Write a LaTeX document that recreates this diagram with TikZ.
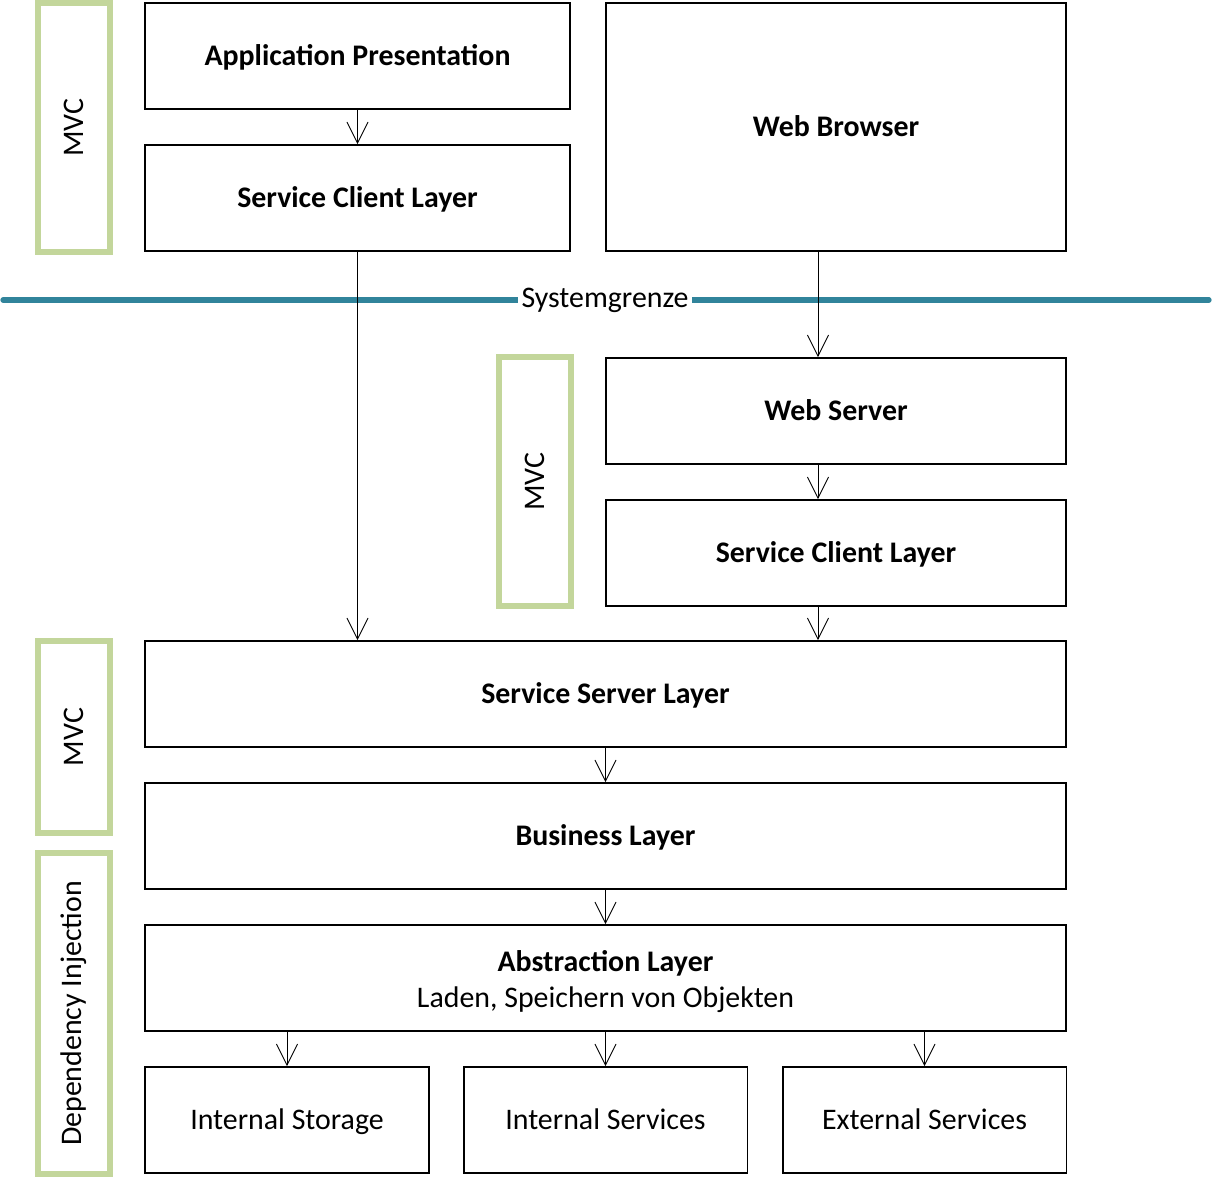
\documentclass[tikz,border=0pt]{standalone}
\usepackage{fontspec}
\setmainfont{Carlito}
\usetikzlibrary{arrows.meta}
\definecolor{mvcgreen}{HTML}{C3D69B}
\definecolor{lineblue}{HTML}{31849B}
\tikzset{
    layer/.style={draw, line width=1.1pt, minimum height=2.12cm, text height=14pt, text depth=3pt, font=\fontsize{17}{20.4}\selectfont\bfseries},
    plain/.style={draw, line width=1.1pt, minimum height=2.12cm, minimum width=5.68cm, text height=14pt, text depth=3pt},
    pattern/.style={draw=mvcgreen, line width=3pt, minimum width=1.44cm},
    arr/.style={-{Straight Barb[length=12pt,width=12pt]}, line width=0.5pt}
}
\begin{document}
\begin{tikzpicture}[x=0.02cm, y=-0.02cm, every node/.style={font=\fontsize{17}{20.4}\selectfont}]
    \useasboundingbox (0,0) rectangle (1212,1177);

    % Client side
    \node[layer, minimum width=8.5cm] (app) at (357.5,56) {Application Presentation};
    \node[layer, minimum width=8.5cm] (scl1) at (357.5,198) {Service Client Layer};
    \node[layer, minimum width=9.2cm, minimum height=4.96cm] (web) at (836,127) {Web Browser};

    % Systemgrenze
    \coordinate (sl) at (3,300);
    \coordinate (sr) at (1209,300);
    \draw[lineblue, line width=3pt, line cap=round] (sl) -- (sr);
    \node[fill=white, inner sep=2pt, text height=12pt, text depth=3pt] (sys) at (605,300) {Systemgrenze};

    % Server side
    \node[layer, minimum width=9.2cm] (wserv) at (836,411) {Web Server};
    \node[layer, minimum width=9.2cm] (scl2) at (836,553) {Service Client Layer};
    \node[layer, minimum width=18.42cm] (sserv) at (605.5,694) {Service Server Layer};
    \node[layer, minimum width=18.42cm] (bus) at (605.5,836) {Business Layer};
    \node[draw, line width=1.1pt, minimum height=2.12cm, minimum width=18.42cm, align=center] (abs) at (605.5,978) {\rule{0pt}{16pt}\textbf{Abstraction Layer}\\Laden, Speichern von Objekten};
    \node[plain] (istore) at (287,1120) {Internal Storage};
    \node[plain] (iserv) at (605.5,1120) {Internal Services};
    \node[plain] (eserv) at (924.5,1120) {External Services};

    % Patterns
    \node[pattern, minimum height=4.98cm] (mvc1) at (74,127.5) {};
    \node[rotate=90] at (mvc1) {MVC};
    \node[pattern, minimum height=4.98cm] (mvc2) at (535,481.5) {};
    \node[rotate=90] at (mvc2) {MVC};
    \node[pattern, minimum height=3.84cm] (mvc3) at (74,737) {};
    \node[rotate=90] at (mvc3) {MVC};
    \node[pattern, minimum height=6.42cm] (di) at (74,1013.5) {};
    \node[rotate=90] at (di) {Dependency Injection};

    % Arrows
    \draw[arr] (app.south) -- (scl1.north);
    \draw[arr] (scl1.south) -- (scl1.south |- sserv.north);
    \draw[arr] ([xshift=-0.36cm]web.south) -- ([xshift=-0.36cm]wserv.north);
    \draw[arr] ([xshift=-0.36cm]wserv.south) -- ([xshift=-0.36cm]scl2.north);
    \draw[arr] ([xshift=-0.36cm]scl2.south) -- ([xshift=-0.36cm]scl2.south |- sserv.north);
    \draw[arr] (sserv.south) -- (bus.north);
    \draw[arr] (bus.south) -- (abs.north);
    \draw[arr] (istore.north |- abs.south) -- (istore.north);
    \draw[arr] (abs.south) -- (iserv.north);
    \draw[arr] (eserv.north |- abs.south) -- (eserv.north);

\end{tikzpicture}
\end{document}
